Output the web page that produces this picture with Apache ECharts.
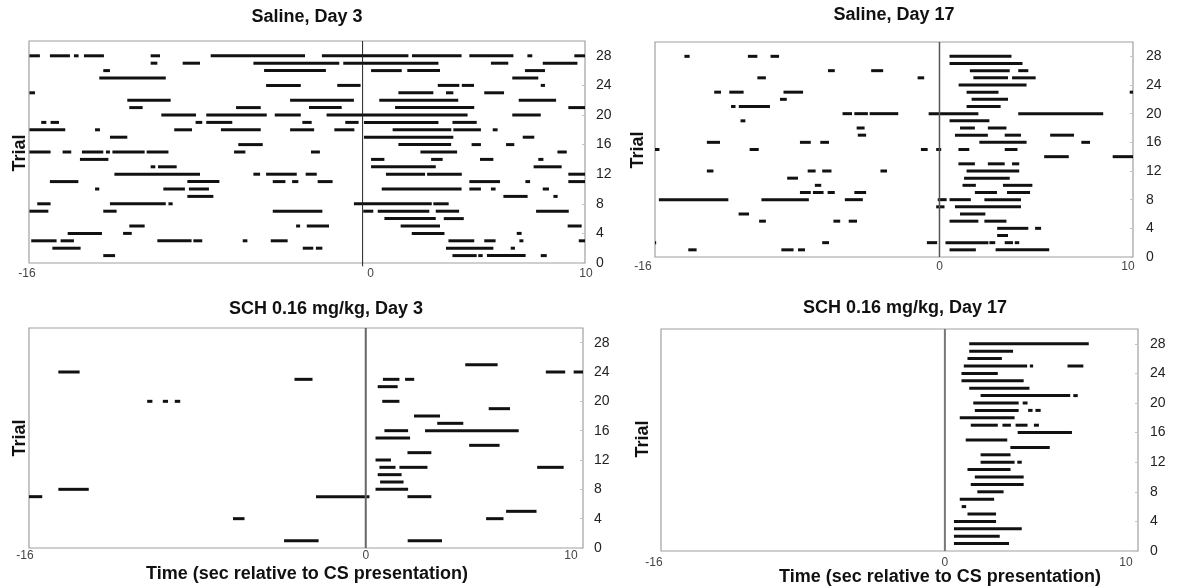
<!DOCTYPE html>
<html>
<head>
<meta charset="utf-8">
<script src="https://cdn.jsdelivr.net/npm/echarts@6.0.0/dist/echarts.min.js"></script>
<style>
html,body{margin:0;padding:0;background:#fff;}
#chart{width:1178px;height:588px;}
</style>
</head>
<body>
<div id="chart"></div>
<script>
// ---- data: each entry is [trial, startSec, endSec] ----
const trialTicks = [0, 4, 8, 12, 16, 20, 24, 28];
const timeTickLabels = ['-16', '0', '10'];
const panelTitles = ['Saline, Day 3', 'Saline, Day 17', 'SCH 0.16 mg/kg, Day 3', 'SCH 0.16 mg/kg, Day 17'];
const yTitle = 'Trial';
const xTitle = 'Time (sec relative to CS presentation)';

const salineDay3 = [
[28,-14.98,-14.51],[28,-14.06,-13.16],[28,-12.98,-12.77],[28,-12.53,-11.63],[28,-9.53,-9.11],[28,-6.83,-2.59],[28,-1.83,2.06],[28,2.22,4.45],[28,4.80,6.78],[28,7.41,7.63],[28,9.52,10],
[27,-9.53,-9.23],[27,-8.09,-7.31],[27,-4.91,-1.05],[27,-0.87,3.41],[27,5.77,6.55],[27,8.10,9.66],
[26,-11.66,-11.36],[26,-4.43,-1.65],[26,0.38,1.76],[26,2.01,3.48],[26,7.30,8.20],
[25,-11.84,-8.85],[25,6.73,7.90],
[24,-4.34,-2.78],[24,-1.14,-0.09],[24,3.38,4.35],[24,4.46,5.01],[24,8.01,8.20],
[23,-14.98,-14.73],[23,1.61,3.18],[23,3.75,4.08],[23,5.47,6.36],
[22,-10.58,-8.63],[22,-3.26,-0.39],[22,0.75,4.30],[22,7.02,8.70],
[21,-10.49,-9.89],[21,-5.69,-4.58],[21,-2.41,-0.94],[21,1.46,5.02],[21,9.25,10],
[20,-9.05,-7.49],[20,-7.03,-4.31],[20,-3.95,-2.78],[20,-1.62,4.72],[20,6.73,8.01],
[19,-14.45,-14.22],[19,-14.03,-13.65],[19,-7.51,-7.21],[19,-7.03,-5.86],[19,-2.71,-2.29],[19,-0.78,-0.18],[19,0.06,3.41],[19,4.04,5.13],
[18,-14.98,-13.37],[18,-12.03,-11.81],[18,-8.47,-7.67],[18,-6.37,-4.58],[18,-3.26,-2.18],[18,-1.27,-0.37],[18,1.35,3.99],[18,4.08,5.32],[18,5.85,6.07],
[17,-11.36,-10.58],[17,0.06,4.08],[17,7.20,7.72],
[16,-5.59,-4.49],[16,1.61,3.98],[16,4.90,5.32],[16,6.45,6.82],
[15,-14.98,-14.03],[15,-13.49,-13.10],[15,-12.62,-11.66],[15,-11.54,-11.36],[15,-11.25,-9.80],[15,-9.71,-8.73],[15,-5.78,-5.27],[15,-2.32,-1.92],[15,2.60,4.25],[15,8.76,9.18],
[14,-12.71,-11.43],[14,0.38,0.98],[14,3.08,3.60],[14,5.28,5.88],[14,7.90,8.13],
[13,-9.53,-9.32],[13,-9.20,-8.36],[13,0.38,3.29],[13,7.69,8.95],
[12,-11.16,-7.31],[12,-4.91,-4.61],[12,-4.34,-2.96],[12,-2.56,-2.06],[12,1.05,2.81],[12,2.90,4.46],[12,9.25,10],
[11,-14.06,-12.78],[11,-7.88,-6.44],[11,-4.04,-3.47],[11,-3.17,-2.89],[11,-2.02,-1.35],[11,4.80,6.18],[11,7.32,7.53],[11,9.25,10],
[10,-12.03,-11.84],[10,-8.96,-7.99],[10,-7.81,-6.91],[10,0.86,4.45],[10,4.80,5.32],[10,5.77,5.98],[10,8.10,8.38],
[9,-7.88,-6.71],[9,6.33,7.42],[9,8.58,8.77],
[8,-14.63,-14.03],[8,-11.36,-8.85],[8,-8.73,-8.54],[8,-0.39,3.11],[8,3.18,3.87],
[7,-14.98,-14.13],[7,-11.66,-11.06],[7,-4.04,-1.81],[7,0.03,0.48],[7,0.68,3.0],[7,3.29,4.34],[7,7.80,9.27],
[6,0.98,3.29],[6,3.65,4.55],
[5,-10.49,-9.80],[5,-2.99,-2.81],[5,-2.51,-1.51],[5,1.71,3.48],[5,9.22,9.85],
[4,-13.26,-11.72],[4,-10.77,-10.38],[4,2.21,3.68],[4,6.93,7.15],
[3,-14.90,-13.76],[3,-13.58,-12.98],[3,-9.23,-7.69],[3,-7.61,-7.21],[3,-5.39,-5.18],[3,-4.13,-3.37],[3,3.86,5.02],[3,5.47,5.98],[3,7.05,7.23],[3,9.72,10],
[2,-13.95,-12.68],[2,-2.69,-2.22],[2,-2.10,-1.81],[2,3.75,5.88],[2,6.66,6.85],
[1,-11.66,-11.13],[1,4.04,5.13],[1,5.20,5.40],[1,5.59,7.33],[1,8.01,8.28]
];

const salineDay17 = [
[28,-13.18,-12.91],[28,-9.90,-9.41],[28,-8.73,-8.29],[28,0.52,3.72],
[27,0.52,4.29],
[26,-5.76,-5.41],[26,-3.53,-2.91],[26,1.57,3.63],[26,4.07,4.59],
[25,-9.41,-8.97],[25,-1.13,-0.79],[25,1.75,3.54],[25,3.75,4.97],
[24,0.99,4.50],
[23,-11.64,-11.29],[23,-10.86,-10.12],[23,-8.06,-7.05],[23,1.40,3.05],[23,9.83,10],
[22,-8.24,-7.89],[22,1.66,3.54],
[21,-10.77,-10.54],[21,-10.37,-8.76],[21,1.40,3.16],
[20,-5.01,-4.52],[20,-4.40,-3.70],[20,-3.61,-2.13],[20,-0.56,2.01],[20,4.07,8.46],
[19,-10.28,-10.03],[19,0.52,2.58],
[18,-4.28,-3.87],[18,1.06,1.83],[18,2.50,3.46],
[17,-4.22,-3.79],[17,0.80,2.50],[17,3.37,4.21],[17,5.72,6.95],
[16,-12.02,-11.34],[16,-7.21,-6.65],[16,-6.16,-5.71],[16,2.06,4.50],[16,7.33,7.78],
[15,-14.87,-14.47],[15,-9.81,-9.34],[15,-0.96,-0.61],[15,-0.17,0.09],[15,0.98,1.54],[15,3.37,4.03],
[14,5.41,6.68],[14,8.95,10],
[13,0.98,1.83],[13,2.50,3.37],[13,3.75,4.12],
[12,-12.02,-11.68],[12,-6.81,-6.40],[12,-6.06,-5.58],[12,-3.05,-2.71],[12,1.40,4.12],
[11,-7.87,-7.31],[11,1.27,3.63],
[10,-6.44,-6.11],[10,1.19,1.88],[10,3.28,4.80],
[9,-7.21,-6.65],[9,-6.54,-5.99],[9,-5.78,-5.41],[9,-4.40,-3.79],[9,1.83,2.97],[9,3.49,4.68],
[8,-14.50,-10.91],[8,-9.20,-6.75],[8,-4.89,-3.96],[8,-0.09,0.37],[8,0.52,1.62],[8,2.32,4.21],
[7,-0.17,0.26],[7,0.80,4.21],
[6,-10.38,-9.84],[6,1.06,2.37],
[5,-9.32,-8.97],[5,-5.48,-5.13],[5,-4.69,-4.26],[5,0.52,2.01],[5,2.32,3.46],
[4,2.98,4.59],[4,4.94,5.25],
[3,2.98,3.54],
[2,-14.87,-14.64],[2,-6.06,-5.71],[2,-0.65,-0.12],[2,0.31,2.53],[2,2.58,2.88],[2,3.37,3.80],[2,3.89,4.12],
[1,-12.98,-12.55],[1,-8.17,-7.54],[1,-7.31,-6.95],[1,0.52,1.88],[1,2.90,5.67]
];

const schDay3 = [
[25,4.58,6.07],
[24,-14.15,-13.17],[24,8.29,9.18],[24,9.57,10],
[23,-3.28,-2.45],[23,0.79,1.55],[23,1.81,2.23],
[22,0.55,1.47],
[20,-10.06,-9.82],[20,-9.34,-9.10],[20,-8.79,-8.54],[20,0.76,1.55],
[19,5.66,6.64],
[18,2.22,3.42],
[17,3.29,4.49],
[16,0.86,1.95],[16,2.73,7.04],
[15,0.45,2.04],
[14,4.76,6.16],
[13,1.92,3.02],
[12,0.45,1.16],
[11,0.63,1.37],[11,1.55,2.84],[11,7.89,9.11],
[10,0.55,1.65],
[9,0.66,1.74],
[8,-14.15,-12.75],[8,0.45,1.95],
[7,-15.5,-14.89],[7,-2.29,0.17],[7,1.92,3.02],
[5,6.46,7.86],
[4,-6.11,-5.58],[4,5.54,6.34],
[1,-3.76,-2.17],[1,1.93,3.51]
];

const schDay17 = [
[28,1.26,7.45],
[27,1.26,3.53],
[26,1.17,2.95],
[25,0.98,4.26],[25,4.40,4.57],[25,6.35,7.17],
[24,0.86,2.74],
[23,0.86,4.08],
[22,1.26,4.38],
[21,1.85,6.49],[21,6.65,6.88],
[20,1.47,3.82],[20,4.03,4.28],
[19,1.55,3.82],[19,4.31,4.54],[19,4.69,4.96],
[18,0.77,3.61],
[17,1.34,2.74],[17,2.98,3.42],[17,3.66,4.28],[17,4.61,4.87],
[16,3.77,6.58],
[15,1.08,3.23],
[14,3.39,5.43],
[13,1.85,3.40],
[12,1.85,3.61],[12,3.75,3.98],
[11,1.17,3.40],
[10,1.55,4.08],
[9,1.34,4.08],
[8,1.68,3.04],
[7,0.77,2.55],
[6,0.87,1.10],
[5,1.17,2.65],
[4,0.47,2.65],
[3,0.47,3.98],
[2,0.47,2.84],
[1,0.47,3.32]
];

// ---- layout ----
const FONT = "'Liberation Sans', Arial, Helvetica, sans-serif";
const panels = [
  {data: salineDay3,  grid: {left: 29,  top: 41,  width: 556, height: 222}, xMin: -15,   zeroColor: '#222', zeroWidth: 1, zeroFrom: -0.45,
   lblShift: [-2, 8, 1],   xMargin: 5, yMargin: 11},
  {data: salineDay17, grid: {left: 655, top: 42,  width: 478, height: 215}, xMin: -14.7, zeroColor: '#555', zeroWidth: 1.5, zeroFrom: 0,
   lblShift: [-12, 0, -5], xMargin: 4, yMargin: 13},
  {data: schDay3,     grid: {left: 29,  top: 328, width: 554, height: 220}, xMin: -15.5, zeroColor: '#666', zeroWidth: 2, zeroFrom: 0,
   lblShift: [-4, 0, -12], xMargin: 2, yMargin: 11},
  {data: schDay17,    grid: {left: 661, top: 329, width: 477, height: 222}, xMin: -14.7, zeroColor: '#777', zeroWidth: 2, zeroFrom: 0,
   lblShift: [-7, 0, -12], xMargin: 6, yMargin: 12}
];

const grids = [], xAxes = [], yAxes = [], series = [];
panels.forEach((p, i) => {
  grids.push(Object.assign({show: true, borderColor: '#a0a0a0', borderWidth: 1.2, backgroundColor: 'transparent'}, p.grid));
  const xVals = [p.xMin, 0, 10];
  const pads = p.lblShift.map(d => Math.abs(d) * 2);
  const base = {fontSize: 12, color: '#444', fontFamily: FONT};
  xAxes.push({
    type: 'value', gridIndex: i, min: p.xMin, max: 10,
    axisLine: {show: false, onZero: false}, axisTick: {show: false}, splitLine: {show: false},
    axisLabel: {
      customValues: xVals, margin: p.xMargin, fontFamily: FONT, fontSize: 12, color: '#444',
      formatter: function (v) {
        const k = v === p.xMin ? 0 : (v === 0 ? 1 : 2);
        const d = p.lblShift[k];
        const tag = d < 0 ? 'l' + k : (d > 0 ? 'r' + k : 'n');
        return '{' + tag + '|' + timeTickLabels[k] + '}';
      },
      rich: {
        l0: Object.assign({padding: [0, pads[0], 0, 0]}, base),
        r0: Object.assign({padding: [0, 0, 0, pads[0]]}, base),
        l1: Object.assign({padding: [0, pads[1], 0, 0]}, base),
        r1: Object.assign({padding: [0, 0, 0, pads[1]]}, base),
        l2: Object.assign({padding: [0, pads[2], 0, 0]}, base),
        r2: Object.assign({padding: [0, 0, 0, pads[2]]}, base),
        n: base
      }
    }
  });
  yAxes.push({
    type: 'value', gridIndex: i, min: 0, max: 30, position: 'right',
    axisLine: {show: false, onZero: false}, splitLine: {show: false},
    axisTick: {show: true, inside: true, length: 3, customValues: trialTicks, lineStyle: {color: '#c4c4c4', width: 1}},
    axisLabel: {customValues: trialTicks, margin: p.yMargin, fontFamily: FONT, fontSize: 14, color: '#222'}
  });
  series.push({
    type: 'custom', xAxisIndex: i, yAxisIndex: i, clip: true,
    encode: {x: [1, 2], y: 0},
    data: p.data,
    renderItem: function (params, api) {
      const t = api.value(0), s = api.value(1), e = api.value(2);
      const a = api.coord([s, t]), b = api.coord([e, t]);
      const h = 3;
      const cs = params.coordSys;
      const shape = echarts.graphic.clipRectByRect(
        {x: a[0], y: a[1] - h / 2, width: b[0] - a[0], height: h},
        {x: cs.x, y: cs.y, width: cs.width, height: cs.height});
      if (!shape) return null;
      return {type: 'rect', shape: shape, style: {fill: '#111'}};
    },
    silent: true, animation: false, z: 3
  });
  series.push({
    type: 'line', xAxisIndex: i, yAxisIndex: i, data: [[0, p.zeroFrom], [0, 30]],
    symbol: 'none', silent: true, animation: false, z: 4, clip: false,
    lineStyle: {color: p.zeroColor, width: p.zeroWidth}
  });
});

function txt(text, x, y, opts) {
  return Object.assign({
    type: 'text', x: x, y: y, silent: true,
    style: {text: text, font: 'bold 18px ' + FONT, fill: '#111', align: 'center', verticalAlign: 'middle'}
  }, opts || {});
}

const graphics = [
  txt(panelTitles[0], 307, 17),
  txt(panelTitles[1], 894, 15),
  txt(panelTitles[2], 326, 309),
  txt(panelTitles[3], 905, 308),
  txt(yTitle, 20, 153, {rotation: Math.PI / 2}),
  txt(yTitle, 638, 150, {rotation: Math.PI / 2}),
  txt(yTitle, 20, 438, {rotation: Math.PI / 2}),
  txt(yTitle, 643, 439, {rotation: Math.PI / 2}),
  txt(xTitle, 307, 574),
  txt(xTitle, 940, 577)
];

const chart = echarts.init(document.getElementById('chart'), null, {renderer: 'canvas'});
chart.setOption({
  animation: false,
  backgroundColor: '#fff',
  grid: grids, xAxis: xAxes, yAxis: yAxes, series: series,
  graphic: graphics
});
</script>
</body>
</html>
